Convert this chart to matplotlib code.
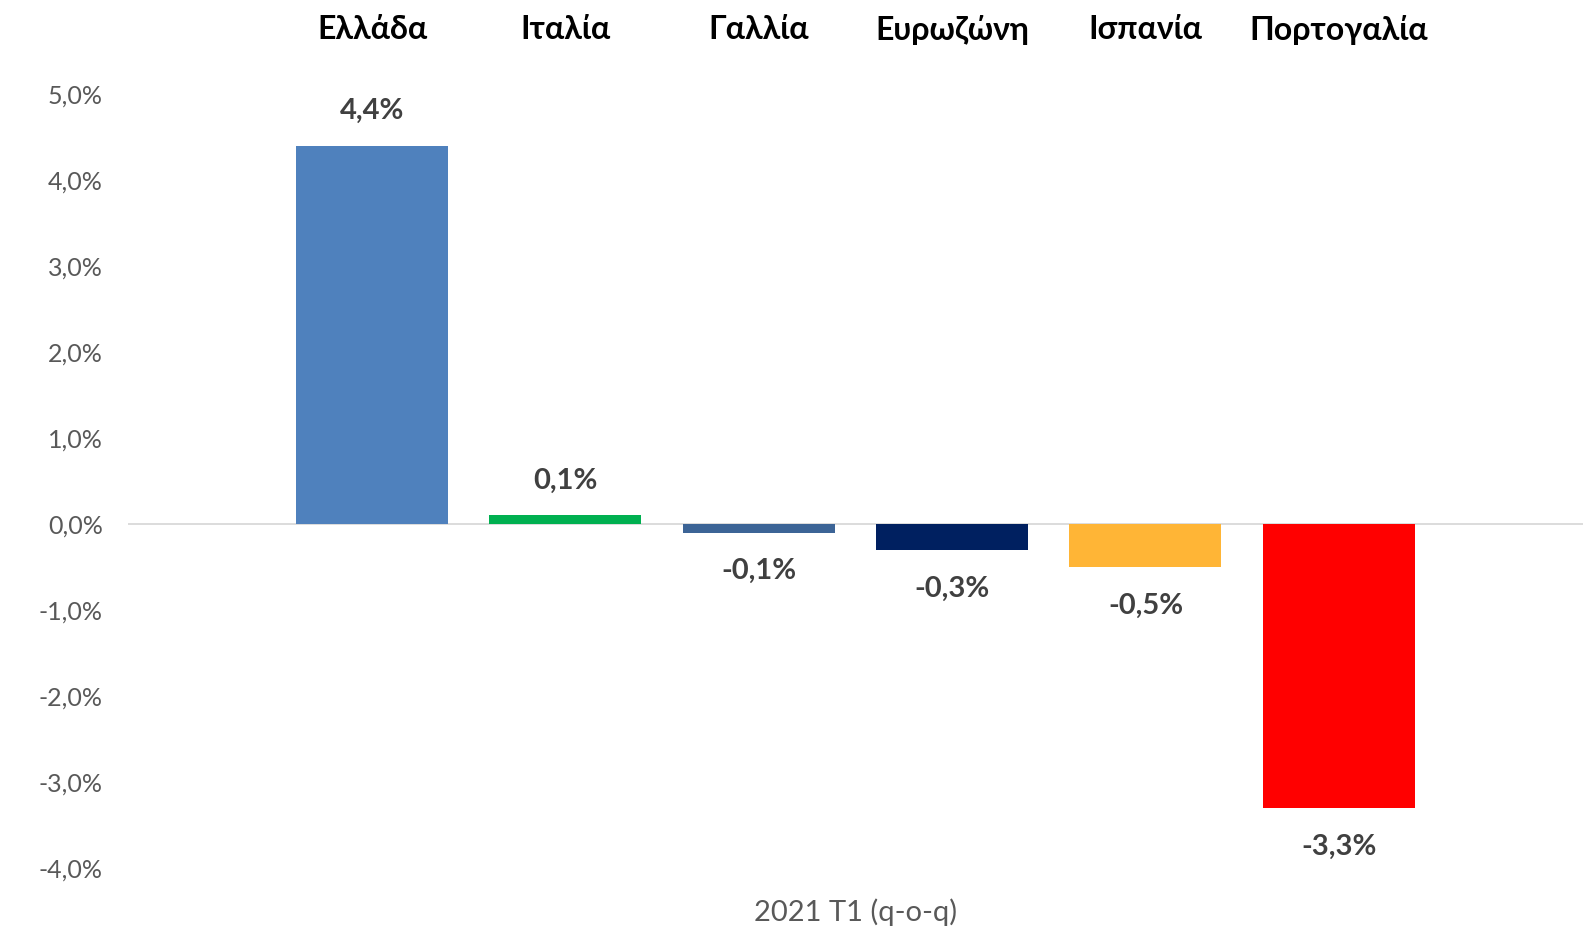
import matplotlib
matplotlib.use("Agg")
import matplotlib.pyplot as plt
from matplotlib.ticker import FuncFormatter

plt.rcParams['font.family'] = ['Lato', 'DejaVu Sans']

countries = ["Ελλάδα", "Ιταλία", "Γαλλία", "Ευρωζώνη", "Ισπανία", "Πορτογαλία"]
values = [4.4, 0.1, -0.1, -0.3, -0.5, -3.3]
colors = ["#4F81BD", "#00B050", "#3C6496", "#002060", "#FFB536", "#FF0000"]
yticks = [-4, -3, -2, -1, 0, 1, 2, 3, 4, 5]
xlabel = "2021 T1 (q-o-q)"

fig = plt.figure(figsize=(15.86, 9.30), dpi=100)
ax = fig.add_axes([0.0807, 0.0667, 0.9173, 0.8323])

x = list(range(len(values)))
ax.bar(x, values, width=0.786, color=colors, zorder=2)
ax.set_xlim(-1.262, len(values) - 1 + 1.262)
ax.set_ylim(-4, 5)
ax.set_yticks(yticks)
ax.yaxis.set_major_formatter(FuncFormatter(lambda v, p: f"{v:.1f}%".replace(".", ",")))
ax.tick_params(axis='y', length=0, pad=18, labelsize=18, labelcolor="#595959")
ax.set_xticks([])
for s in ax.spines.values():
    s.set_visible(False)
ax.axhline(0, color="#D9D9D9", lw=1.3, zorder=1)

for xi, v in zip(x, values):
    off = 0.40 if v >= 0 else -0.45
    ax.text(xi, v + off, f"{v:.1f}%".replace(".", ","), ha='center', va='center',
            fontsize=21, fontweight='bold', color="#404040")

top_y = 1.0 + (1 - 30 / 930 - 0.899) / 0.8323
for xi, name in zip(x, countries):
    ax.text(xi, top_y, name, transform=ax.get_xaxis_transform(), ha='center', va='center',
            fontsize=23, fontweight='bold', color="black")

ax.text(0.5, -(912 - 868) / 930 / 0.8323, xlabel, transform=ax.transAxes, ha='center', va='center',
        fontsize=21, color="#595959")

fig.savefig("out.png", dpi=100)
